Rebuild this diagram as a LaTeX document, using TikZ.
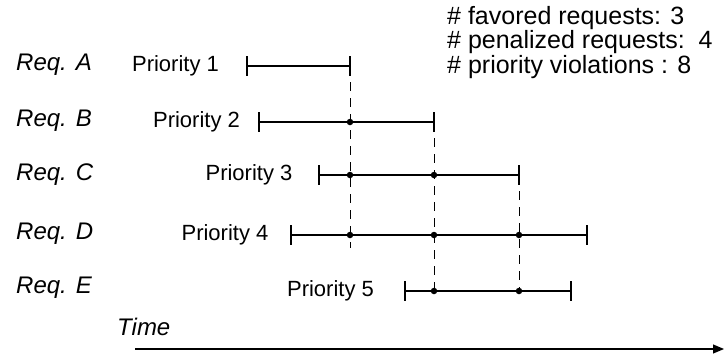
\documentclass[tikz,border=0pt]{standalone}
\usepackage{fontspec}
\setmainfont{Liberation Sans}
\usetikzlibrary{arrows.meta}
\begin{document}
\begin{tikzpicture}[x=1pt,y=-1pt,
  req/.style={anchor=west,inner sep=0pt,font=\itshape\fontsize{24}{28}\selectfont},
  pri/.style={inner sep=0pt,font=\fontsize{22}{26}\selectfont},
  info/.style={anchor=west,inner sep=0pt,font=\fontsize{25}{29}\selectfont},
  bar/.style={line width=1.1pt},
  tickln/.style={line width=2pt},
  viol/.style={line width=0.9pt,dash pattern=on 9pt off 7pt},
  dotmark/.style={circle,fill=black,inner sep=0pt,minimum size=6.5pt}]
\useasboundingbox (0,0) rectangle (724,354);
% labels
\node[req] (ra) at (16,65) {Req. A};
\node[req] (rb) at (16,121) {Req. B};
\node[req] (rc) at (16,175) {Req. C};
\node[req] (rd) at (16,234) {Req. D};
\node[req] (re) at (16,288) {Req. E};
\node[pri] (pa) at (175.5,66) {Priority 1};
\node[pri] (pb) at (196.5,122) {Priority 2};
\node[pri] (pc) at (249,175) {Priority 3};
\node[pri] (pd) at (225,235) {Priority 4};
\node[pri] (pe) at (330.5,291) {Priority 5};
\node[info] (i1) at (447,18) {\# favored requests: 3};
\node[info] (i2) at (447,42.5) {\# penalized requests:~~4};
\node[info] (i3) at (447,67) {\# priority violations : 8};
\node[req] (tm) at (117,327) {Time};
% endpoints
\coordinate (a0) at (247,66);  \coordinate (a1) at (350,66);
\coordinate (b0) at (259,122); \coordinate (b1) at (434,122);
\coordinate (c0) at (319,175); \coordinate (c1) at (519,175);
\coordinate (d0) at (291,235); \coordinate (d1) at (587,235);
\coordinate (e0) at (405,291); \coordinate (e1) at (571,291);
\coordinate (v1) at (350,248);
% bars
\foreach \r in {a,b,c,d,e}{
  \draw[bar] (\r0) -- (\r1);
  \draw[tickln] ([yshift=10pt]\r0) -- ([yshift=-10pt]\r0);
  \draw[tickln] ([yshift=10pt]\r1) -- ([yshift=-10pt]\r1);
}
% violations
\node[dotmark] (db1) at (350,122) {};
\node[dotmark] (dc1) at (350,175) {};
\node[dotmark] (dc2) at (434,175) {};
\node[dotmark] (dd1) at (350,235) {};
\node[dotmark] (dd2) at (434,235) {};
\node[dotmark] (dd3) at (519,235) {};
\node[dotmark] (de2) at (434,291) {};
\node[dotmark] (de3) at (519,291) {};
\draw[viol] (a1) -- (v1);
\draw[viol] (b1) -- (de2.center);
\draw[viol] (c1) -- (de3.center);
% time axis
\coordinate (t0) at (135,349);
\coordinate (t1) at (724,349);
\draw[line width=1.1pt,-{Triangle[length=11pt,width=9pt]}] (t0) -- (t1);
\end{tikzpicture}
\end{document}
